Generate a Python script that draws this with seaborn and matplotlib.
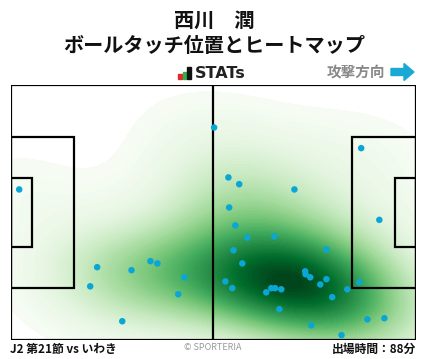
import matplotlib
matplotlib.use("Agg")
import matplotlib.pyplot as plt
import matplotlib.patches as patches
import seaborn as sns
import pandas as pd

sns.set_theme(style="white")
plt.rcParams['font.family'] = ['Noto Sans CJK JP', 'DejaVu Sans']

# Touch positions (pitch metres, x: 0-105 toward attack, y: 0-68 from top)
touch_x = [2.2, 52.7, 90.8, 56.4, 59.2, 73.5, 56.6, 95.5, 22.4, 20.6, 31.3, 36.2, 38.0, 45.0,
           43.4, 28.9, 58.2, 61.3, 68.3, 57.7, 81.8, 60.0, 55.6, 57.4, 76.3, 76.4, 77.6, 80.2,
           81.8, 66.2, 67.5, 68.5, 70.1, 90.3, 87.2, 83.3, 69.6, 77.9, 92.4, 96.8, 85.7]
touch_y = [27.9, 11.4, 16.9, 24.7, 26.5, 27.9, 32.7, 36.0, 48.6, 53.7, 49.4, 47.0, 47.6, 51.3,
           55.8, 63.0, 37.5, 40.7, 40.4, 44.1, 43.9, 47.6, 52.4, 54.2, 49.7, 50.5, 51.3, 53.2,
           51.8, 55.3, 54.2, 54.2, 54.5, 52.6, 54.5, 56.6, 59.8, 64.1, 62.5, 62.2, 66.7]

title_name = "西川　潤"
title_sub = "ボールタッチ位置とヒートマップ"
match_label = "J2 第21節 vs いわき"
minutes_label = "出場時間：88分"
credit_label = "© SPORTERIA"
direction_label = "攻撃方向"

df = pd.DataFrame({"x": touch_x, "y": touch_y})

fig = plt.figure(figsize=(4.28, 3.59), dpi=100)
ax = fig.add_axes([10.7/428, 19/359, 405.3/428, 255.3/359])

L, W = 105, 68
sns.kdeplot(data=df, x="x", y="y", fill=True, cmap="Greens", levels=80, thresh=0.012,
            clip=((0, L), (0, W)), cut=10, bw_adjust=1.3, ax=ax, zorder=1)
sns.scatterplot(data=df, x="x", y="y", color="#0aa6d6", s=22, edgecolor="none", ax=ax, zorder=5)

lw = 1.6
lc = "black"
ax.add_patch(patches.Rectangle((0, 0), L, W, fill=False, lw=lw, ec=lc, zorder=4))
ax.plot([L/2, L/2], [0, W], color=lc, lw=lw, zorder=4)
pb_top = (W - 40.32) / 2
ga_top = (W - 18.32) / 2
ax.add_patch(patches.Rectangle((0, pb_top), 16.5, 40.32, fill=False, lw=lw, ec=lc, zorder=4))
ax.add_patch(patches.Rectangle((L - 16.5, pb_top), 16.5, 40.32, fill=False, lw=lw, ec=lc, zorder=4))
ax.add_patch(patches.Rectangle((0, ga_top), 5.5, 18.32, fill=False, lw=lw, ec=lc, zorder=4))
ax.add_patch(patches.Rectangle((L - 5.5, ga_top), 5.5, 18.32, fill=False, lw=lw, ec=lc, zorder=4))

ax.set_xlim(0, L)
ax.set_ylim(W, 0)
ax.set_axis_off()

# Titles
fig.text(214/428, 1 - 20/359, title_name, ha="center", va="center", fontsize=14.5,
         fontweight="bold", color="#111111")
fig.text(214/428, 1 - 46/359, title_sub, ha="center", va="center", fontsize=14.5,
         fontweight="bold", color="#111111")

# STATs logo
bars = [(178, 5, "#e8262b"), (182.5, 7, "#2bb34b"), (187, 12, "#111111")]
for bx, bh, bc in bars:
    fig.patches.append(patches.Rectangle((bx/428, (359-79)/359), 3.8/428, bh/359,
                                         transform=fig.transFigure, color=bc, figure=fig))
fig.text(195/428, 1 - 73.5/359, "STATs", ha="left", va="center", fontsize=11.5,
         fontweight="bold", color="#222222", family=["DejaVu Sans"])

# attack direction
fig.text(385/428, 1 - 72/359, direction_label, ha="right", va="center", fontsize=10.5,
         color="#888888", fontweight="bold")
fig.patches.append(patches.FancyArrow(391/428, (359-72)/359, 13/428, 0, width=7/359,
                                      head_width=17/359, head_length=10/428,
                                      length_includes_head=False, transform=fig.transFigure,
                                      color="#1aa8d4", figure=fig))

# footer
fig.text(10/428, 1 - 349/359, match_label, ha="left", va="center", fontsize=8.5,
         fontweight="bold", color="#111111")
fig.text(213/428, 1 - 348/359, credit_label, ha="center", va="center", fontsize=6.5,
         color="#999999")
fig.text(416/428, 1 - 349/359, minutes_label, ha="right", va="center", fontsize=8.5,
         fontweight="bold", color="#111111")

fig.savefig("out.png", dpi=100)
